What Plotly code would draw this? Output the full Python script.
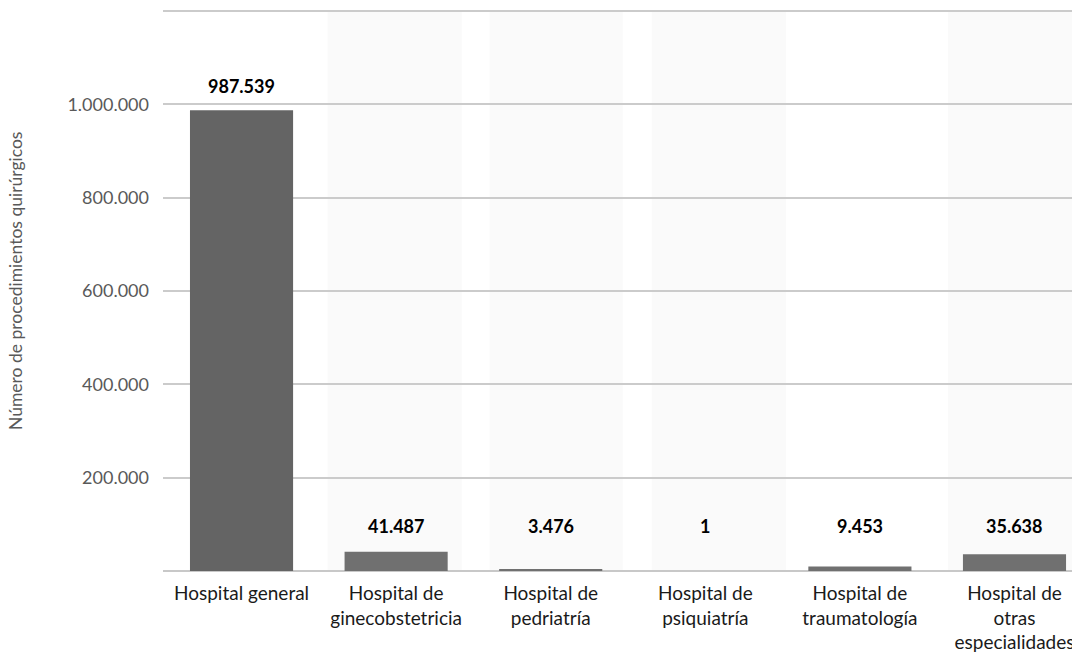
import plotly.graph_objects as go

categories = [
    "Hospital general",
    "Hospital de<br>ginecobstetricia",
    "Hospital de<br>pedriatría",
    "Hospital de<br>psiquiatría",
    "Hospital de<br>traumatología",
    "Hospital de<br>otras<br>especialidades",
]
values = [987539, 41487, 3476, 1, 9453, 35638]
ytick_vals = [0, 200000, 400000, 600000, 800000, 1000000, 1200000]
ytick_text = ["", "200.000", "400.000", "600.000", "800.000", "1.000.000", ""]
y_title = "Número de procedimientos quirúrgicos"

bar_colors = ["#646464"] + ["#707070"] * (len(values) - 1)


def fmt(v):
    return f"{v:,}".replace(",", ".")


W, H = 1072, 655
ml, mr, mt, mb = 163, 0, 6, 84
pw, ph = W - ml - mr, H - mt - mb
y_top = ytick_vals[-1] * ph / 560.0

fig = go.Figure()
fig.add_trace(go.Bar(
    x=list(range(len(categories))),
    y=values,
    width=0.667,
    marker=dict(color=bar_colors, line=dict(width=0)),
    hoverinfo="skip",
    showlegend=False,
))

# value labels
label_floor = 44000
label_gap = 52000
for i, v in enumerate(values):
    fig.add_annotation(
        x=i, y=max(v, label_floor) + label_gap, xref="x", yref="y",
        text=f"<b>{fmt(v)}</b>", showarrow=False, yanchor="middle",
        font=dict(family="Lato", size=18, color="#000000"),
    )

# alternating background bands
bands = [(0.557, 1.424), (1.605, 2.466), (2.654, 3.521), (4.570, 6.0)]
for x0, x1 in bands:
    fig.add_shape(type="rect", xref="x", yref="y", x0=x0, x1=x1,
                  y0=0, y1=ytick_vals[-1], fillcolor="#fafafa",
                  line=dict(width=0), layer="below")

fig.add_annotation(
    x=(15 - ml) / pw, y=(H - mb - 281) / ph, xref="paper", yref="paper",
    text=y_title, showarrow=False, textangle=-90,
    xanchor="center", yanchor="middle",
    font=dict(family="Lato", size=17.5, color="#595959"),
)

fig.update_layout(
    width=W, height=H,
    margin=dict(l=ml, r=mr, t=mt, b=mb, pad=0),
    paper_bgcolor="white", plot_bgcolor="white",
    template="none",
    separators=",.",
    xaxis=dict(
        tickmode="array",
        tickvals=list(range(len(categories))),
        ticktext=categories,
        range=[-0.508, 5.372],
        showgrid=False, zeroline=False, showline=False,
        ticks="", automargin=False,
        ticklabeloverflow="allow",
        ticklabelstandoff=9,
        tickfont=dict(family="Lato", size=19, color="#1a1a1a"),
    ),
    yaxis=dict(
        range=[0, y_top],
        tickmode="array", tickvals=ytick_vals, ticktext=ytick_text,
        showgrid=True, gridcolor="#cbcbcb", gridwidth=1.6,
        zeroline=True, zerolinecolor="#c8c8c8", zerolinewidth=2,
        showline=False, ticks="", automargin=False,
        ticklabelstandoff=13,
        tickfont=dict(family="Lato", size=18, color="#595959"),
    ),
)

fig.write_html(
    "out.html",
    config={"displayModeBar": False},
    post_script="document.body.style.margin='0';document.body.style.overflow='hidden';",
)
